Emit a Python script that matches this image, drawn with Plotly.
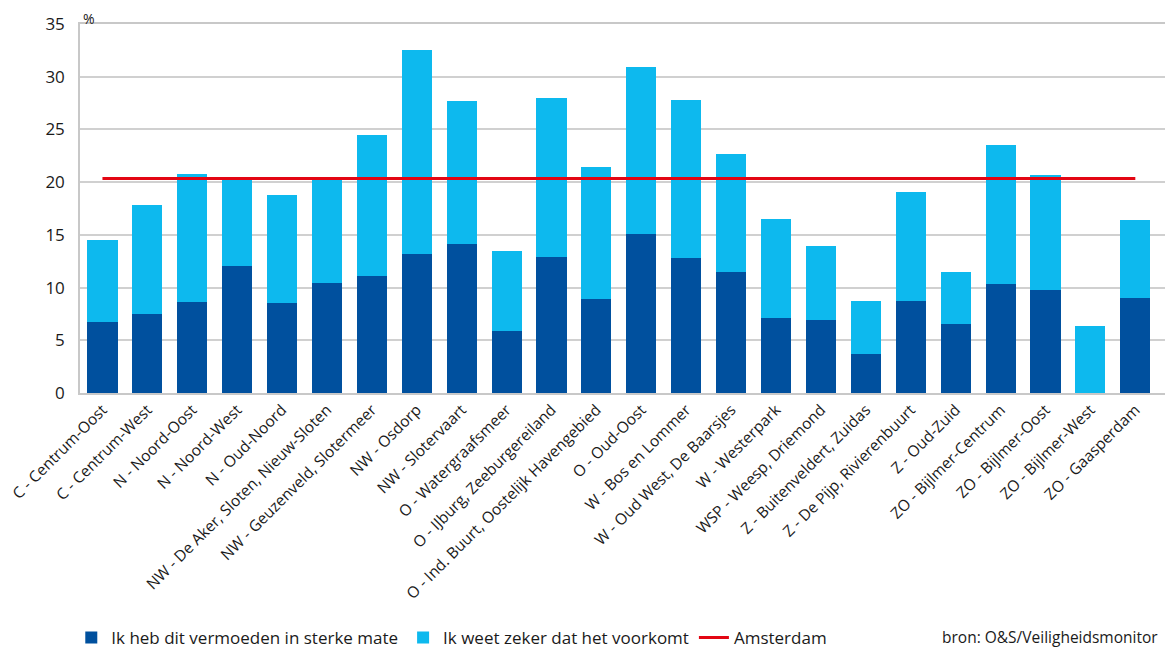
import plotly.graph_objects as go

categories = [
    "C - Centrum-Oost", "C - Centrum-West", "N - Noord-Oost", "N - Noord-West",
    "N - Oud-Noord", "NW - De Aker, Sloten, Nieuw-Sloten",
    "NW - Geuzenveld, Slotermeer", "NW - Osdorp", "NW - Slotervaart",
    "O - Watergraafsmeer", "O - IJburg, Zeeburgereiland",
    "O - Ind. Buurt, Oostelijk Havengebied", "O - Oud-Oost", "W - Bos en Lommer",
    "W - Oud West, De Baarsjes", "W - Westerpark", "WSP - Weesp, Driemond",
    "Z - Buitenveldert, Zuidas", "Z - De Pijp, Rivierenbuurt", "Z - Oud-Zuid",
    "ZO - Bijlmer-Centrum", "ZO - Bijlmer-Oost", "ZO - Bijlmer-West",
    "ZO - Gaasperdam",
]

# Ik heb dit vermoeden in sterke mate
strong_suspicion = [6.7, 7.5, 8.6, 12.0, 8.5, 10.4, 11.1, 13.2, 14.1, 5.9, 12.9,
                    8.9, 15.1, 12.8, 11.5, 7.1, 6.9, 3.7, 8.7, 6.5, 10.3, 9.8,
                    0.0, 9.0]
# Ik weet zeker dat het voorkomt (stacked on top)
know_for_sure = [7.8, 10.3, 12.2, 8.3, 10.3, 9.9, 13.4, 19.3, 13.6, 7.6, 15.1,
                 12.5, 15.8, 15.0, 11.2, 9.4, 7.0, 5.0, 10.4, 5.0, 13.2, 10.9,
                 6.4, 7.4]
amsterdam_avg = 20.35

y_ticks = [0, 5, 10, 15, 20, 25, 30, 35]

FONT = "Open Sans"
DARK = "#00509E"
LIGHT = "#0DB9EE"
RED = "#E30613"

fig = go.Figure()
fig.add_trace(go.Bar(
    x=categories, y=strong_suspicion, name="Ik heb dit vermoeden in sterke mate",
    marker=dict(color=DARK, line=dict(width=0)),
))
fig.add_trace(go.Bar(
    x=categories, y=know_for_sure, name="Ik weet zeker dat het voorkomt",
    marker=dict(color=LIGHT, line=dict(width=0)),
))
fig.add_trace(go.Scatter(
    x=categories, y=[amsterdam_avg] * len(categories), name="Amsterdam",
    mode="lines", line=dict(color=RED, width=3),
))

fig.update_layout(
    width=1165, height=641,
    barmode="stack", bargap=0.33,
    plot_bgcolor="white", paper_bgcolor="white",
    font=dict(family=FONT, size=15, color="#1a1a1a"),
    margin=dict(l=72, r=4, t=16, b=256, autoexpand=False),
    showlegend=True,
    legend=dict(
        orientation="h", x=-0.008, xanchor="left", y=-0.664, yanchor="middle",
        font=dict(size=17, color="#1a1a1a"), traceorder="normal",
        itemclick=False, bgcolor="rgba(0,0,0,0)",
    ),
    xaxis=dict(
        type="category", tickangle=-45, range=[-0.5, 23.75], automargin=False,
        showline=True, mirror=True, linecolor="#C8C8C8", linewidth=1.5,
        showgrid=False, ticks="", tickfont=dict(size=15.5),
    ),
    yaxis=dict(
        range=[0, 35], tickvals=y_ticks, ticktext=[str(v) for v in y_ticks],
        automargin=False, ticklabeloverflow="allow",
        showgrid=True, gridcolor="#D0D0D0", gridwidth=1.5,
        showline=True, mirror=True, linecolor="#C8C8C8", linewidth=1.5,
        ticks="", ticklabelstandoff=10, tickfont=dict(size=17), zeroline=False,
    ),
    annotations=[
        dict(text="%", xref="paper", yref="paper", x=0.002, y=1.0434,
             xanchor="left", yanchor="top", showarrow=False, borderpad=0,
             font=dict(size=14)),
        dict(text="bron: O&S/Veiligheidsmonitor", xref="paper", yref="paper",
             x=0.9915, y=-0.661, xanchor="right", yanchor="middle",
             showarrow=False, font=dict(size=15.5)),
    ],
)

fig.write_html("out.html")
